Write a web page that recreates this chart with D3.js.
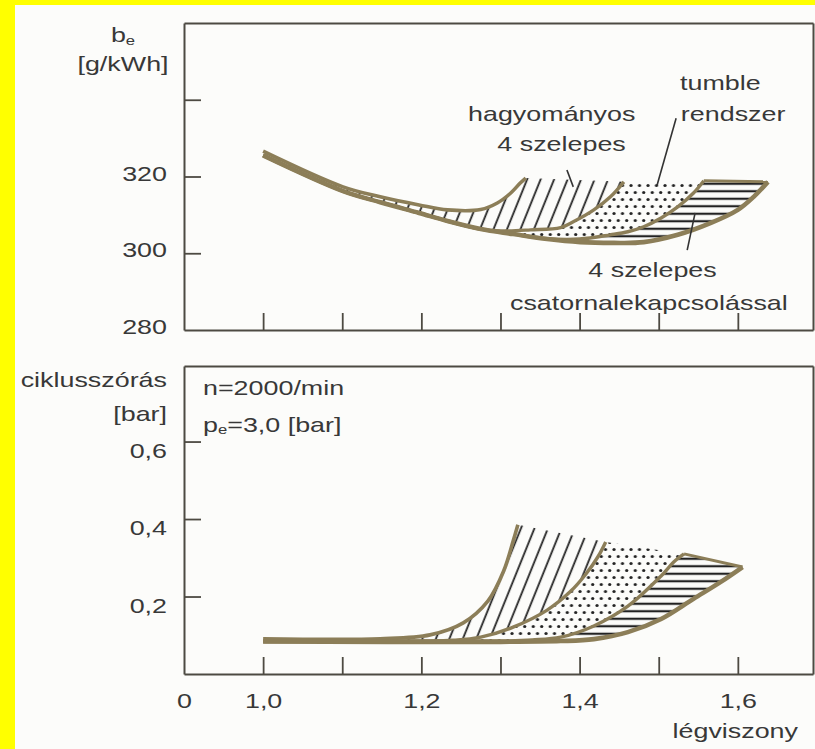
<!DOCTYPE html>
<html>
<head>
<meta charset="utf-8">
<script src="https://d3js.org/d3.v7.min.js"></script>
<style>
	html, body { margin: 0; padding: 0; background: #ffff00; }
	svg { display: block; }
	text { font-family: "Liberation Sans", Arial, sans-serif; font-size: 21px; fill: #383838; }
</style>
</head>
<body>
<svg id="chart" width="815" height="749"></svg>
<script>
// Specific fuel consumption and cycle-to-cycle variation against the air ratio,
// for three intake port layouts.
//

// Air ratio (légviszony). 0.9 is where the broken axis starts, it is labelled "0".
var lambdaTicks = [1.0, 1.1, 1.2, 1.3, 1.4, 1.5, 1.6];
var lambdaLabels = [0.9, 1.0, 1.2, 1.4, 1.6];

// Specific fuel consumption b_e [g/kWh].
var beTicks = [300, 320, 340];
var beLabels = [280, 300, 320];

// Cycle-to-cycle variation [bar].
var sigmaTicks = [0.2, 0.4, 0.6];
var sigmaLabels = [0.2, 0.4, 0.6];

// Edges of the bands, [λ, value]:
// edge 1 | hagyományos 4 szelepes | edge 2 | tumble rendszer | edge 3 | csatornalekapcsolással | edge 4
var beEdge1 = [[1.000, 326.6], [1.101, 317.3], [1.148, 314.7], [1.197, 312.6], [1.233, 311.3], [1.275, 311.4],
	[1.296, 313.1], [1.313, 315.7], [1.325, 318.3], [1.332, 319.6]];
var beEdge2 = [[1.000, 325.5], [1.101, 316.2], [1.148, 313.3], [1.197, 310.5], [1.233, 308.4], [1.275, 306.3],
	[1.300, 305.8], [1.338, 306.1], [1.376, 306.7], [1.392, 308.2], [1.418, 311.3], [1.439, 314.7], [1.456, 318.6]];
var beEdge3 = [[1.000, 325.5], [1.101, 316.2], [1.148, 313.3], [1.197, 310.5], [1.233, 308.4], [1.275, 306.3],
	[1.316, 305.0], [1.359, 303.8], [1.400, 303.7], [1.439, 304.8], [1.461, 305.6], [1.481, 306.9], [1.503, 309.2],
	[1.524, 312.1], [1.544, 315.7], [1.557, 318.9]];
var beEdge4 = [[1.000, 325.5], [1.101, 316.2], [1.148, 313.3], [1.197, 310.5], [1.233, 308.4], [1.275, 306.3],
	[1.316, 305.0], [1.359, 303.7], [1.401, 302.9], [1.443, 302.7], [1.481, 302.9], [1.524, 304.8], [1.566, 307.9],
	[1.600, 311.3], [1.620, 314.7], [1.638, 318.6]];

var sigmaEdge1 = [[1.000, 0.091], [1.148, 0.091], [1.211, 0.101], [1.253, 0.132], [1.284, 0.188], [1.304, 0.266],
	[1.316, 0.343], [1.322, 0.385]];
var sigmaEdge2 = [[1.000, 0.084], [1.200, 0.085], [1.240, 0.087], [1.275, 0.095], [1.316, 0.121], [1.359, 0.165],
	[1.389, 0.214], [1.408, 0.258], [1.423, 0.302], [1.433, 0.341]];
var sigmaEdge3 = [[1.000, 0.084], [1.300, 0.085], [1.340, 0.088], [1.376, 0.095], [1.418, 0.124], [1.461, 0.175],
	[1.503, 0.253], [1.519, 0.289], [1.532, 0.310]];
var sigmaEdge4 = [[1.000, 0.084], [1.300, 0.083], [1.376, 0.085], [1.418, 0.090], [1.461, 0.108], [1.503, 0.142],
	[1.544, 0.194], [1.578, 0.237], [1.606, 0.276]];

// Band names in the upper panel, [λ, b_e] of the start of the baseline.
var beNotes = [
	{text: 'hagyományos', at: [1.259, 334.5]},
	{text: '4 szelepes', at: [1.296, 326.6]},
	{text: 'tumble', at: [1.527, 342.5]},
	{text: 'rendszer', at: [1.528, 334.5]},
	{text: '4 szelepes', at: [1.411, 293.8]},
	{text: 'csatornalekapcsolással', at: [1.312, 285.2]}
];
var beLeaders = [
	[[1.522, 335.2], [1.498, 317.8]],
	[[1.384, 321.7], [1.392, 317.3]],
	[[1.536, 300.8], [1.546, 310.5]]
];

// Operating point, written in the lower panel.
var sigmaNotes = [
	{text: 'n=2000/min', at: [0.924, 0.720]},
	{text: 'p', sub: 'e', rest: '=3,0 [bar]', at: [0.924, 0.625]}
];

var width = 815, height = 749;
var stretch = 'scale(1.28,1)'; // the scanned lettering is wider than Arial
var curveColor = '#8c7e58';
var frameColor = '#4d4a42';
var inkColor = '#222';
var edgeWidths = [3.6, 3.4, 3.4, 4.6];

var svg = d3.select('#chart');

// Paper, with the yellow border of the scan on the top and the left.
svg.append('rect').attr('width', width).attr('height', height).attr('fill', '#ffff00');
svg.append('rect').attr('x', 15).attr('y', 5).attr('width', width - 15).attr('height', height - 5)
	.attr('fill', '#fcfcfa');

var x = d3.scaleLinear().domain([0.9, 1.695]).range([184, 813]);
var yBe = d3.scaleLinear().domain([280, 360]).range([330, 23]);
var ySigma = d3.scaleLinear().domain([0, 0.795]).range([674, 366]);

var commaFormat = function(d) { return d3.format('.1f')(d).replace('.', ','); };
var lambdaFormat = function(d) { return d < 1 ? '0' : commaFormat(d); };

// Fill patterns of the three bands.
var defs = svg.append('defs');
defs.append('pattern').attr('id', 'hatch').attr('patternUnits', 'userSpaceOnUse')
	.attr('width', 12.5).attr('height', 20).attr('patternTransform', 'rotate(22)')
	.append('line').attr('x1', 6).attr('x2', 6).attr('y1', -1).attr('y2', 21)
	.attr('stroke', inkColor).attr('stroke-width', 1.8);
defs.append('pattern').attr('id', 'dots').attr('patternUnits', 'userSpaceOnUse')
	.attr('width', 8.5).attr('height', 14)
	.selectAll('circle').data([[2, 3.5], [6.25, 10.5]]).join('circle')
	.attr('cx', function(d) { return d[0]; }).attr('cy', function(d) { return d[1]; })
	.attr('r', 1.6).attr('fill', inkColor);
defs.append('pattern').attr('id', 'stripes').attr('patternUnits', 'userSpaceOnUse')
	.attr('width', 10).attr('height', 7.5)
	.append('line').attr('x1', -1).attr('x2', 11).attr('y1', 3.75).attr('y2', 3.75)
	.attr('stroke', inkColor).attr('stroke-width', 2.2);

// Text placed at a pixel position, widened like the scanned lettering.
function addText(parent, str, px, py, anchor) {
	return parent.append('text')
		.attr('transform', 'translate(' + px + ',' + py + ') ' + stretch)
		.attr('text-anchor', anchor || 'start')
		.text(str);
}

function drawPanel(y, yTicks, yLabels, yLabelShift, edges) {
	var g = svg.append('g');
	var line = d3.line()
		.x(function(d) { return x(d[0]); })
		.y(function(d) { return y(d[1]); })
		.curve(d3.curveCatmullRom.alpha(0.5));

	// A band goes along its left edge, across its top and back along its right edge.
	var fills = ['url(#hatch)', 'url(#dots)', 'url(#stripes)'];
	g.selectAll('.band').data(fills).join('path')
		.attr('class', 'band')
		.attr('d', function(f, i) {
			return line(edges[i]) + line(edges[i + 1].slice().reverse()).replace(/^M/, 'L') + 'Z';
		})
		.attr('fill', function(f) { return f; });

	// Only the striped band is closed at the top.
	var last = function(a) { return a[a.length - 1]; };
	g.append('path')
		.attr('d', d3.line().x(function(d) { return x(d[0]); }).y(function(d) { return y(d[1]); })(
			[last(edges[2]), last(edges[3])]))
		.attr('fill', 'none').attr('stroke', curveColor).attr('stroke-width', 3);

	g.selectAll('.edge').data(edges).join('path')
		.attr('class', 'edge')
		.attr('d', line)
		.attr('fill', 'none')
		.attr('stroke', curveColor)
		.attr('stroke-width', function(d, i) { return edgeWidths[i]; });

	// Frame with inward ticks.
	var left = x.range()[0], right = x.range()[1];
	var yBottom = y.range()[0], yTop = y.range()[1];
	var frame = g.append('g').attr('color', frameColor);
	frame.append('g').attr('transform', 'translate(0,' + yBottom + ')')
		.call(d3.axisBottom(x).tickValues(lambdaTicks).tickSize(-17).tickSizeOuter(0).tickFormat(''));
	frame.append('g').attr('transform', 'translate(0,' + yTop + ')')
		.call(d3.axisTop(x).tickValues([]).tickSizeOuter(0));
	frame.append('g').attr('transform', 'translate(' + left + ',0)')
		.call(d3.axisLeft(y).tickValues(yTicks).tickSize(-17).tickSizeOuter(0).tickFormat(''));
	frame.append('g').attr('transform', 'translate(' + right + ',0)')
		.call(d3.axisRight(y).tickValues([]).tickSizeOuter(0));
	frame.selectAll('.domain').attr('stroke-width', 2);
	frame.selectAll('.tick line').attr('stroke-width', 1.8);

	var yAxisLabels = g.append('g').attr('transform', 'translate(' + left + ',0)')
		.call(d3.axisLeft(y).tickValues(yLabels).tickSize(0).tickPadding(0)
			.tickFormat(y === yBe ? d3.format('d') : commaFormat));
	yAxisLabels.attr('font-size', null).attr('font-family', null);
	yAxisLabels.select('.domain').remove();
	yAxisLabels.selectAll('text')
		.attr('x', 0)
		.attr('fill', null)
		.attr('transform', 'translate(-17,' + yLabelShift + ') ' + stretch);

	return g;
}

// Upper panel: specific fuel consumption.
var bePanel = drawPanel(yBe, beTicks, beLabels, -3, [beEdge1, beEdge2, beEdge3, beEdge4]);

bePanel.selectAll('.leader').data(beLeaders).join('path')
	.attr('class', 'leader')
	.attr('d', d3.line().x(function(d) { return x(d[0]); }).y(function(d) { return yBe(d[1]); }))
	.attr('stroke', '#333').attr('stroke-width', 1.6);
beNotes.forEach(function(n) {
	addText(bePanel, n.text, x(n.at[0]), yBe(n.at[1]));
});

var beTitle = addText(svg, '', 123, 42, 'middle');
beTitle.append('tspan').text('b');
beTitle.append('tspan').text('e').attr('font-size', 13).attr('dy', 3);
addText(svg, '[g/kWh]', 123, 71, 'middle');

// Lower panel: cycle-to-cycle variation.
var sigmaPanel = drawPanel(ySigma, sigmaTicks, sigmaLabels, 9, [sigmaEdge1, sigmaEdge2, sigmaEdge3, sigmaEdge4]);

sigmaNotes.forEach(function(n) {
	var t = addText(sigmaPanel, n.text, x(n.at[0]), ySigma(n.at[1]));
	if (n.sub) {
		t.append('tspan').text(n.sub).attr('font-size', 13).attr('dy', 2);
		t.append('tspan').text(n.rest).attr('dy', -2);
	}
});

var xAxisLabels = sigmaPanel.append('g').attr('transform', 'translate(0,' + ySigma.range()[0] + ')')
	.call(d3.axisBottom(x).tickValues(lambdaLabels).tickSize(0).tickPadding(19).tickFormat(lambdaFormat));
xAxisLabels.attr('font-size', null).attr('font-family', null);
xAxisLabels.select('.domain').remove();
xAxisLabels.selectAll('text').attr('fill', null).attr('transform', stretch);

addText(svg, 'ciklusszórás', 167, 387, 'end');
addText(svg, '[bar]', 167, 421, 'end');
addText(svg, 'légviszony', 798, 738, 'end');
</script>
</body>
</html>
